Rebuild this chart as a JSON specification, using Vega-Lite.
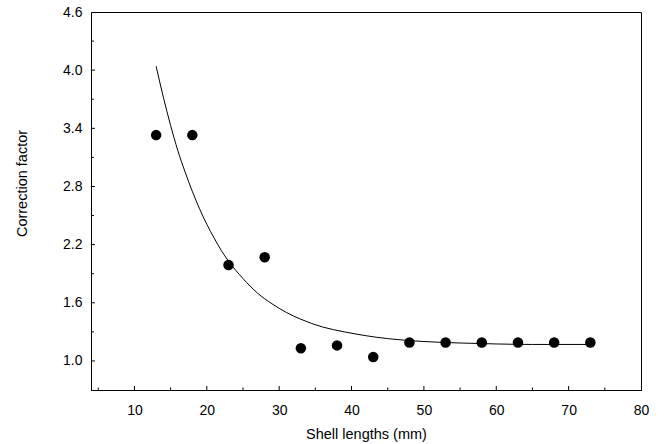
{
  "$schema": "https://vega.github.io/schema/vega-lite/v6.json",
  "autosize": {"type": "none"},
  "padding": {"left": 91, "top": 12, "right": 24, "bottom": 54},
  "width": 550,
  "height": 378,
  "background": "white",
  "config": {
    "view": {"stroke": "black", "strokeWidth": 1},
    "font": "Liberation Sans",
    "axis": {
      "grid": false,
      "domainColor": "black",
      "tickColor": "black",
      "labelColor": "black",
      "titleColor": "black",
      "labelFont": "Liberation Sans",
      "titleFont": "Liberation Sans",
      "labelFontSize": 14,
      "titleFontSize": 14.5,
      "titleFontWeight": "normal"
    }
  },
  "datasets": {
    "curve": [
      {"length": 13, "factor": 4.04},
      {"length": 14, "factor": 3.72},
      {"length": 15, "factor": 3.43},
      {"length": 16, "factor": 3.17},
      {"length": 17, "factor": 2.95},
      {"length": 18, "factor": 2.75},
      {"length": 19, "factor": 2.57},
      {"length": 20, "factor": 2.41},
      {"length": 21, "factor": 2.27},
      {"length": 22, "factor": 2.14},
      {"length": 23, "factor": 2.03},
      {"length": 25, "factor": 1.85},
      {"length": 27, "factor": 1.70},
      {"length": 29, "factor": 1.59},
      {"length": 31, "factor": 1.50},
      {"length": 33, "factor": 1.43},
      {"length": 36, "factor": 1.35},
      {"length": 39, "factor": 1.30},
      {"length": 42, "factor": 1.26},
      {"length": 45, "factor": 1.23},
      {"length": 50, "factor": 1.20},
      {"length": 55, "factor": 1.185},
      {"length": 60, "factor": 1.175},
      {"length": 65, "factor": 1.17},
      {"length": 73, "factor": 1.17}
    ],
    "obs": [
      {"length": 13, "factor": 3.33},
      {"length": 18, "factor": 3.33},
      {"length": 23, "factor": 1.99},
      {"length": 28, "factor": 2.07},
      {"length": 33, "factor": 1.13},
      {"length": 38, "factor": 1.16},
      {"length": 43, "factor": 1.04},
      {"length": 48, "factor": 1.19},
      {"length": 53, "factor": 1.19},
      {"length": 58, "factor": 1.19},
      {"length": 63, "factor": 1.19},
      {"length": 68, "factor": 1.19},
      {"length": 73, "factor": 1.19}
    ],
    "xmajor": [{"v": 10}, {"v": 20}, {"v": 30}, {"v": 40}, {"v": 50}, {"v": 60}, {"v": 70}],
    "xminor": [{"v": 5}, {"v": 15}, {"v": 25}, {"v": 35}, {"v": 45}, {"v": 55}, {"v": 65}, {"v": 75}],
    "ymajor": [{"v": 1.0}, {"v": 1.6}, {"v": 2.2}, {"v": 2.8}, {"v": 3.4}, {"v": 4.0}],
    "yminor": [{"v": 1.3}, {"v": 1.9}, {"v": 2.5}, {"v": 3.1}, {"v": 3.7}, {"v": 4.3}]
  },
  "layer": [
    {
      "data": {"name": "curve"},
      "mark": {"type": "line", "color": "black", "strokeWidth": 1, "interpolate": "monotone"},
      "encoding": {
        "x": {
          "field": "length", "type": "quantitative",
          "scale": {"domain": [4, 80], "nice": false, "zero": false},
          "axis": {
            "title": "Shell lengths (mm)",
            "values": [10, 20, 30, 40, 50, 60, 70, 80],
            "ticks": false,
            "labelPadding": 13,
            "titlePadding": 10,
            "labelFlush": false
          }
        },
        "y": {
          "field": "factor", "type": "quantitative",
          "scale": {"domain": [0.7, 4.6], "nice": false, "zero": false},
          "axis": {
            "title": "Correction factor",
            "values": [1.0, 1.6, 2.2, 2.8, 3.4, 4.0, 4.6],
            "format": ".1f",
            "ticks": false,
            "labelPadding": 9,
            "titleX": -69,
            "titleY": 171,
            "titleBaseline": "middle",
            "titleAlign": "center",
            "titleAngle": -90,
            "labelFlush": false
          }
        }
      }
    },
    {
      "data": {"name": "xmajor"},
      "mark": {"type": "rule", "color": "black", "strokeWidth": 1},
      "encoding": {
        "x": {"field": "v", "type": "quantitative"},
        "y": {"datum": 0.7},
        "y2": {"datum": 0.742}
      }
    },
    {
      "data": {"name": "xminor"},
      "mark": {"type": "rule", "color": "black", "strokeWidth": 1},
      "encoding": {
        "x": {"field": "v", "type": "quantitative"},
        "y": {"datum": 0.7},
        "y2": {"datum": 0.726}
      }
    },
    {
      "data": {"name": "ymajor"},
      "mark": {"type": "rule", "color": "black", "strokeWidth": 1},
      "encoding": {
        "y": {"field": "v", "type": "quantitative"},
        "x": {"datum": 4},
        "x2": {"datum": 4.55}
      }
    },
    {
      "data": {"name": "yminor"},
      "mark": {"type": "rule", "color": "black", "strokeWidth": 1},
      "encoding": {
        "y": {"field": "v", "type": "quantitative"},
        "x": {"datum": 4},
        "x2": {"datum": 4.4}
      }
    },
    {
      "data": {"name": "obs"},
      "mark": {"type": "point", "filled": true, "color": "black", "opacity": 1, "size": 110},
      "encoding": {
        "x": {"field": "length", "type": "quantitative"},
        "y": {"field": "factor", "type": "quantitative"}
      }
    }
  ]
}
